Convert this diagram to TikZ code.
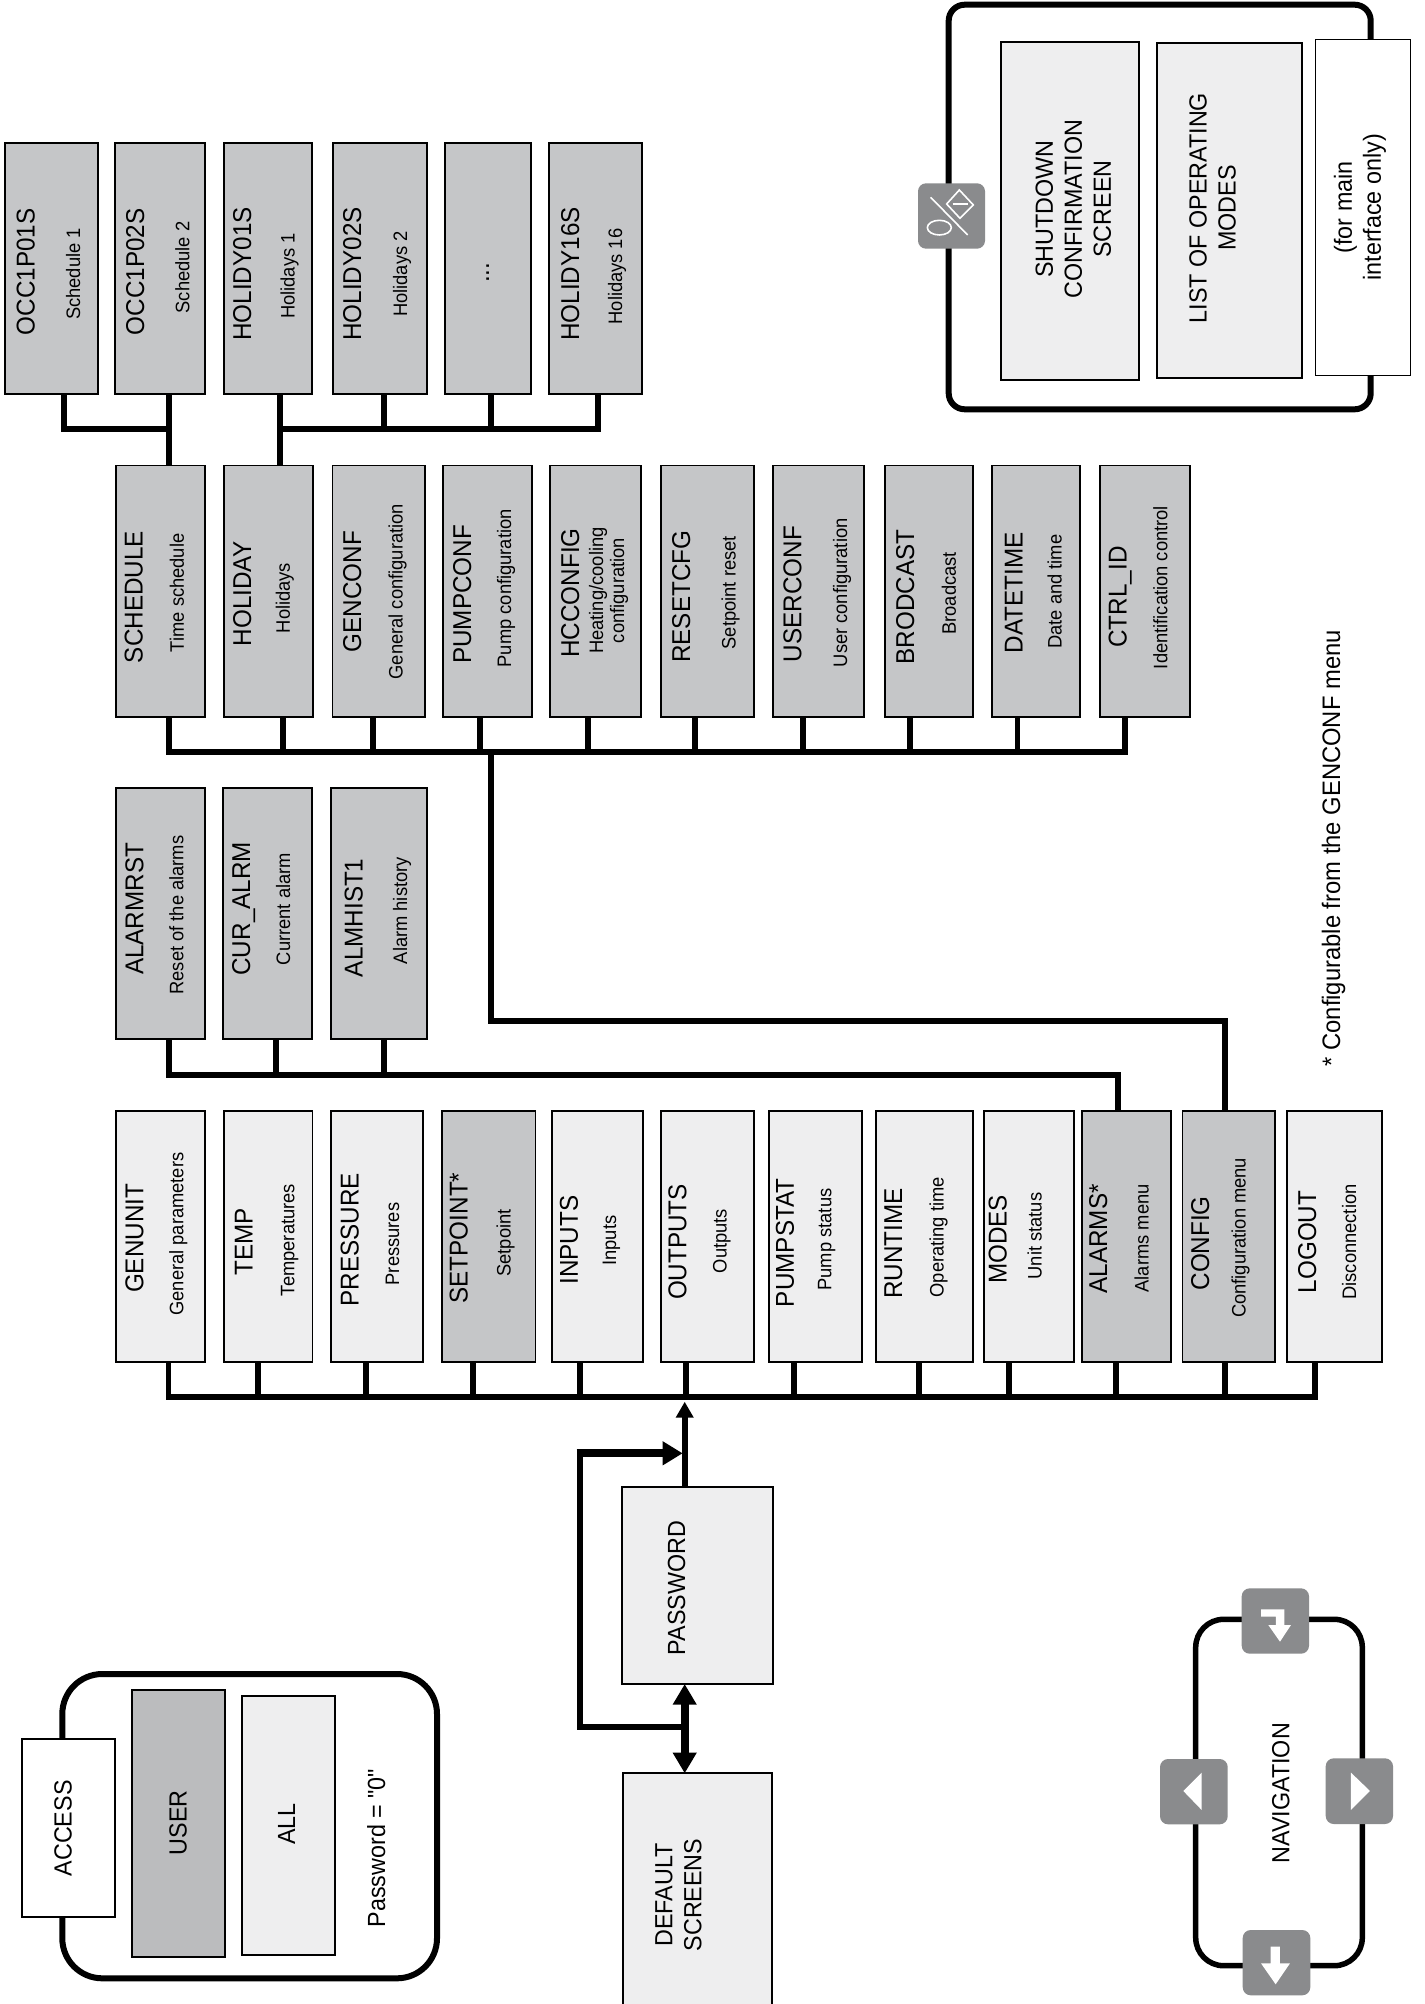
\documentclass[tikz,border=0pt]{standalone}
\usepackage{fontspec}
\setmainfont[FakeStretch=0.94]{Liberation Sans}
\newfontfamily\plainquotes[FakeStretch=0.94]{Liberation Sans}
\usetikzlibrary{arrows.meta}
\definecolor{lightfill}{HTML}{EEEEEF}
\definecolor{midfill}{HTML}{C5C6C8}
\definecolor{userfill}{HTML}{BBBCBE}
\definecolor{btnfill}{HTML}{8A8B8D}
\tikzset{
  cardbase/.style={draw=black,line width=1.8pt,inner sep=0pt,outer sep=0pt,rectangle},
  lightcard/.style={cardbase,fill=lightfill},
  midcard/.style={cardbase,fill=midfill},
  usercard/.style={cardbase,fill=userfill},
  whitecard/.style={cardbase,fill=white},
  notecard/.style={cardbase,fill=white,line width=1.2pt},
  frameA/.style={draw=black,line width=6pt,rounded corners=40pt,inner sep=0pt,outer sep=0pt,rectangle},
  frameB/.style={draw=black,line width=6pt,rounded corners=16pt,inner sep=0pt,outer sep=0pt,rectangle},
  frameC/.style={draw=black,line width=5.5pt,rounded corners=28pt,inner sep=0pt,outer sep=0pt,rectangle},
  navbtn/.style={fill=btnfill,rounded corners=8pt,inner sep=0pt,outer sep=0pt,rectangle},
  bigtext/.style={font=\fontsize{25.8}{29}\selectfont,rotate=90,inner sep=0pt,anchor=base,align=center},
  outertext/.style={font=\fontsize{24.8}{29}\selectfont,rotate=90,inner sep=0pt,anchor=base,align=center},
  notetext/.style={font=\fontsize{25.3}{29}\selectfont,rotate=90,inner sep=0pt,anchor=base},
  bigblock/.style={font=\fontsize{24.8}{29}\selectfont,rotate=90,inner sep=0pt,anchor=center,align=center},
  subtext/.style={font=\fontsize{19.5}{21}\selectfont,rotate=90,inner sep=0pt,anchor=base},
  subblock/.style={font=\fontsize{19.5}{21}\selectfont,rotate=90,inner sep=0pt,anchor=center,align=center},
  wire/.style={draw=black,line width=5.8pt,line cap=butt},
  busline/.style={draw=black,line width=5.8pt,line cap=rect},
  heavy/.style={draw=black,line width=8pt,line cap=butt},
  smalltip/.style={-{Triangle[length=16pt,width=17pt]}},
  glyph/.style={fill=white,draw=none},
  glyphline/.style={draw=white,line width=1.6pt}
}
\newcommand{\boxat}[6]{% name, style, x1, x2, y1, y2
  \pgfmathsetmacro{\bcx}{(#3+#4)/2}\pgfmathsetmacro{\bcy}{(#5+#6)/2}%
  \pgfmathsetmacro{\bw}{#4-#3}\pgfmathsetmacro{\bh}{#6-#5}%
  \node[#2,minimum width=\bw pt,minimum height=\bh pt] (#1) at (\bcx,\bcy) {};}
\newcommand{\entry}[9]{% name, style, x1, x2, y1, y2, tx, ty, title
  \boxat{#1}{#2}{#3}{#4}{#5}{#6}%
  \node[bigtext] (#1-title) at (#7,#8) {#9};}
\newcommand{\subt}[4]{\node[subtext] (#1-sub) at (#2,#3) {#4};}
\newcommand{\tapdown}[3]{% box, x, bus y
  \coordinate (#1-j) at (#2,#3);
  \draw[wire] (#1.south -| #1-j) -- (#1-j);}
\begin{document}
\begin{tikzpicture}[x=1pt,y=-1pt]
\useasboundingbox (0,0) rectangle (1424,2004);
\fill[white] (0,0) rectangle (1424,2004);

% frames
\boxat{modesframe}{frameB}{948.7}{1370.7}{4.7}{409.3}
\boxat{accessframe}{frameA}{62.3}{437}{1674}{1978.3}
\boxat{navframe}{frameC}{1195.7}{1362.3}{1619.3}{1965.7}

% top row
\def\ya{143}\def\yb{394}
\entry{occa}{midcard}{5}{97.6}{\ya}{\yb}{34.5}{272}{OCC1P01S}\subt{occa}{80}{274}{Schedule 1}
\entry{occb}{midcard}{115}{205}{\ya}{\yb}{144}{272}{OCC1P02S}\subt{occb}{189.4}{267.5}{Schedule 2}
\entry{hola}{midcard}{224}{312}{\ya}{\yb}{251}{274}{HOLIDY01S}\subt{hola}{294.6}{276}{Holidays 1}
\entry{holb}{midcard}{333}{427}{\ya}{\yb}{361}{274}{HOLIDY02S}\subt{holb}{407}{274}{Holidays 2}
\boxat{holdots}{midcard}{445}{531}{\ya}{\yb}\node[bigtext] (holdots-sub) at (489,272.7) {...};
\entry{holc}{midcard}{549}{642}{\ya}{\yb}{579}{274}{HOLIDY16S}\subt{holc}{622}{276.5}{Holidays 16}

% second row
\def\ya{465.5}\def\yb{716.7}
\entry{schedule}{midcard}{116.2}{204.8}{\ya}{\yb}{142.7}{597}{SCHEDULE}\subt{schedule}{183.8}{592.8}{Time schedule}
\entry{holiday}{midcard}{224.2}{312.7}{\ya}{\yb}{251}{594}{HOLIDAY}\subt{holiday}{289.8}{598}{Holidays}
\entry{genconf}{midcard}{332.5}{424.6}{\ya}{\yb}{361}{591.7}{GENCONF}\subt{genconf}{402.5}{591.7}{General configuration}
\entry{pumpconf}{midcard}{443.2}{531.8}{\ya}{\yb}{471}{594.3}{PUMPCONF}\subt{pumpconf}{511}{588.3}{Pump configuration}
\entry{hcconfig}{midcard}{549.6}{641.3}{\ya}{\yb}{579.2}{593}{HCCONFIG}
\node[subblock] (hcconfig-sub) at (608.5,590.6) {Heating/cooling\\configuration};
\entry{resetcfg}{midcard}{661}{753.7}{\ya}{\yb}{690}{596.7}{RESETCFG}\subt{resetcfg}{735.5}{592.7}{Setpoint reset}
\entry{userconf}{midcard}{772.8}{863.9}{\ya}{\yb}{801.4}{594}{USERCONF}\subt{userconf}{847}{592.8}{User configuration}
\entry{brodcast}{midcard}{885.1}{972.7}{\ya}{\yb}{914}{597}{BRODCAST}\subt{brodcast}{955.8}{593.3}{Broadcast}
\entry{datetime}{midcard}{991.8}{1080.3}{\ya}{\yb}{1022.6}{593}{DATETIME}\subt{datetime}{1061.6}{591.7}{Date and time}
\entry{ctrlid}{midcard}{1099.8}{1190}{\ya}{\yb}{1126.7}{597}{CTRL\_ID}\subt{ctrlid}{1167.4}{587.5}{Identification control}

% third row
\def\ya{787.7}\def\yb{1039}
\entry{alarmrst}{midcard}{115.7}{205.3}{\ya}{\yb}{143.3}{908.8}{ALARMRST}\subt{alarmrst}{183.3}{915}{Reset of the alarms}
\entry{curalrm}{midcard}{222.7}{312}{\ya}{\yb}{250}{908.8}{CUR\_ALRM}\subt{curalrm}{290}{909}{Current alarm}
\entry{almhist}{midcard}{331}{427}{\ya}{\yb}{362.7}{917.8}{ALMHIST1}\subt{almhist}{407}{910.7}{Alarm history}

% fourth row
\def\ya{1110.7}\def\yb{1362}
\entry{genunit}{lightcard}{116}{205}{\ya}{\yb}{143.4}{1238.3}{GENUNIT}\subt{genunit}{183.3}{1234}{General parameters}
\entry{temp}{lightcard}{223.6}{312.5}{\ya}{\yb}{252.6}{1242}{TEMP}\subt{temp}{294.3}{1240}{Temperatures}
\entry{pressure}{lightcard}{330.7}{423}{\ya}{\yb}{358.5}{1239.7}{PRESSURE}\subt{pressure}{399}{1244}{Pressures}
\entry{setpoint}{midcard}{441.7}{535.4}{\ya}{\yb}{467.7}{1238}{SETPOINT*}\subt{setpoint}{510.7}{1243}{Setpoint}
\entry{inputs}{lightcard}{551.9}{643}{\ya}{\yb}{577.9}{1240}{INPUTS}\subt{inputs}{616}{1240.5}{Inputs}
\entry{outputs}{lightcard}{661.2}{754}{\ya}{\yb}{686.3}{1242}{OUTPUTS}\subt{outputs}{726.6}{1241}{Outputs}
\entry{pumpstat}{lightcard}{769}{862}{\ya}{\yb}{793.9}{1242.8}{PUMPSTAT}\subt{pumpstat}{831.4}{1239.5}{Pump status}
\entry{runtime}{lightcard}{876.3}{973}{\ya}{\yb}{902}{1243.3}{RUNTIME}\subt{runtime}{943.7}{1237.3}{Operating time}
\entry{modes}{lightcard}{983.7}{1073.9}{\ya}{\yb}{1006.5}{1239.3}{MODES}\subt{modes}{1041.6}{1236}{Unit status}
\entry{alarms}{midcard}{1081.6}{1170.6}{\ya}{\yb}{1107}{1238.8}{ALARMS*}\subt{alarms}{1148.6}{1238.3}{Alarms menu}
\entry{config}{midcard}{1182.4}{1274.7}{\ya}{\yb}{1209}{1243.3}{CONFIG}\subt{config}{1245.7}{1237.8}{Configuration menu}
\entry{logout}{lightcard}{1287.3}{1381.6}{\ya}{\yb}{1316}{1242}{LOGOUT}\subt{logout}{1356}{1242}{Disconnection}

% password and default screens
\boxat{password}{lightcard}{622}{773}{1486.7}{1684}
\node[outertext] (password-title) at (685,1588) {PASSWORD};
\boxat{defscreens}{lightcard}{623.3}{772.3}{1773.3}{2030}
\node[bigblock] (defscreens-title) at (678.4,1895) {DEFAULT\\SCREENS};

% access
\boxat{accessbox}{whitecard}{22}{114.7}{1739}{1916.7}
\node[outertext] (accessbox-title) at (71.7,1828.3) {ACCESS};
\boxat{userbox}{usercard}{132.3}{224.7}{1690}{1956.7}
\node[outertext] (userbox-title) at (186.7,1822.7) {USER};
\boxat{allbox}{lightcard}{241.7}{335.3}{1695.7}{1955}
\node[outertext] (allbox-title) at (295,1824) {ALL};
\node[outertext] (pwnote) at (385,1848) {\plainquotes Password = "0"};

% operating modes
\boxat{shutbox}{lightcard}{1001}{1138.7}{41.7}{380}
\node[bigblock] (shutbox-title) at (1073.3,209) {SHUTDOWN\\CONFIRMATION\\SCREEN};
\boxat{listbox}{lightcard}{1156.7}{1302.3}{42.7}{377.7}
\node[bigblock] (listbox-title) at (1212.5,208) {LIST OF OPERATING\\MODES};
\boxat{mainbox}{notecard}{1315.3}{1410.3}{39.7}{375.7}
\node[bigblock] (mainbox-title) at (1360,207.3) {(for main\\interface only)};
\boxat{stopbtn}{navbtn}{918}{985}{183.3}{248.7}
\begin{scope}[x=0.3333pt,y=-0.3333pt,xshift=900pt,yshift=0pt]
  \draw[glyphline] (92,592) -- (203,705);
  \draw[glyphline] (118,683) ellipse [x radius=36,y radius=22];
  \draw[glyphline,line join=miter] (178,570) -- (220,615) -- (180,655) -- (140,612) -- cycle;
  \draw[glyphline] (158,612) -- (203,612);
\end{scope}

% navigation
\boxat{navtop}{navbtn}{1241.7}{1309}{1588.3}{1653.7}
\boxat{navleft}{navbtn}{1160}{1227.7}{1759}{1824.3}
\boxat{navright}{navbtn}{1325.7}{1393}{1758.3}{1824}
\boxat{navbottom}{navbtn}{1242.7}{1310.3}{1930}{1995.3}
\node[outertext] (navtitle) at (1289.3,1793.3) {NAVIGATION};
\begin{scope}[x=0.3333pt,y=-0.3333pt,xshift=1100pt,yshift=-1560pt]
  \fill[glyph] (483,148) -- (553,148) -- (553,195) -- (573,195) -- (540,245) -- (505,195) -- (528,195) -- (528,170) -- (483,170) -- cycle;
  \fill[glyph] (305,638) -- (250,693) -- (305,750) -- cycle;
  \fill[glyph] (753,638) -- (810,693) -- (753,750) -- cycle;
  \fill[glyph] (512,1160) -- (540,1160) -- (540,1210) -- (570,1210) -- (527,1273) -- (483,1210) -- (512,1210) -- cycle;
\end{scope}

% footnote
\node[notetext] (footnote) at (1340,848.3) {* Configurable from the GENCONF menu};

% schedule and holiday connectors
\tapdown{occa}{64}{429}\tapdown{occb}{169}{429}
\tapdown{hola}{280}{429}\tapdown{holb}{384}{429}\tapdown{holdots}{491}{429}\tapdown{holc}{598}{429}
\draw[busline] (occa-j) -- (occb-j);
\draw[busline] (hola-j) -- (holb-j) -- (holdots-j) -- (holc-j);
\draw[wire] (occb.south -| occb-j) -- (schedule.north -| occb-j);
\draw[wire] (hola.south -| hola-j) -- (holiday.north -| hola-j);

% config bus
\tapdown{schedule}{169.2}{752.3}\tapdown{holiday}{283}{752.3}\tapdown{genconf}{372.8}{752.3}
\tapdown{pumpconf}{480}{752.3}\tapdown{hcconfig}{588}{752.3}\tapdown{resetcfg}{695.2}{752.3}
\tapdown{userconf}{803.2}{752.3}\tapdown{brodcast}{909.8}{752.3}\tapdown{datetime}{1017.4}{752.3}
\tapdown{ctrlid}{1125}{752.3}
\draw[busline] (schedule-j) -- (ctrlid-j);

% alarms bus
\tapdown{alarmrst}{169.3}{1075.2}\tapdown{curalrm}{276.3}{1075.2}\tapdown{almhist}{383.7}{1075.2}
\coordinate (alarmjoin) at (1118,1075.2);
\draw[busline] (alarmrst-j) -- (alarmjoin);
\draw[wire] (alarmjoin) -- (alarms.north -| alarmjoin);

% configuration link
\coordinate (cfgdrop) at (491,752.3);
\coordinate (cfgbend) at (491,1021.3);
\coordinate (cfgcorner) at (1225.3,1021.3);
\draw[wire,line join=miter] (cfgdrop) -- (cfgbend) -- (cfgcorner) -- (config.north -| cfgcorner);

% main bus
\tapdown{genunit}{168.5}{1397.3}\tapdown{temp}{258.3}{1397.3}\tapdown{pressure}{365.8}{1397.3}
\tapdown{setpoint}{473}{1397.3}\tapdown{inputs}{580}{1397.3}\tapdown{outputs}{686.3}{1397.3}
\tapdown{pumpstat}{794.3}{1397.3}\tapdown{runtime}{918.8}{1397.3}\tapdown{modes}{1008.6}{1397.3}
\tapdown{alarms}{1116.3}{1397.3}\tapdown{config}{1225.3}{1397.3}\tapdown{logout}{1314.7}{1397.3}
\draw[busline] (genunit-j) -- (logout-j);

% password arrows
\coordinate (pwx) at (684.7,1500);
\coordinate (bustip) at (684.7,1401.7);
\coordinate (loopjoin) at (684.7,1726.7);
\coordinate (loopbl) at (580,1726.7);
\coordinate (looptl) at (580,1453.3);
\coordinate (loophit) at (682.7,1453.3);
\coordinate (loopstart) at (576.7,1453.3);
\draw[wire,smalltip] (password.north -| pwx) -- (bustip);
\draw[wire,line join=miter] (loopjoin) -- (loopbl) -- (looptl);
\draw[heavy,-{Triangle[length=20pt,width=22.7pt]}] (loopstart) -- (loophit);
\draw[heavy,{Triangle[length=20.7pt,width=22.7pt]}-{Triangle[length=20.7pt,width=22.7pt]}] (password.south -| pwx) -- (defscreens.north -| pwx);
\end{tikzpicture}
\end{document}
